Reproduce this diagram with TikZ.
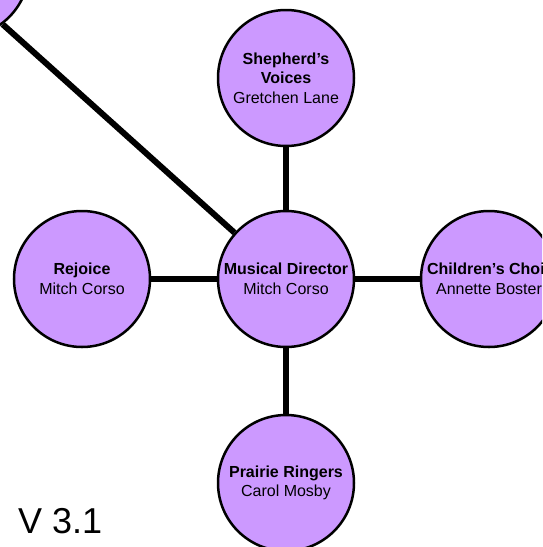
\documentclass[tikz,border=0pt]{standalone}
\usepackage{fontspec}
\setmainfont{Liberation Sans}
\definecolor{bubble}{HTML}{CC99FF}
\begin{document}
\begin{tikzpicture}[x=1pt,y=-1pt,
  bubble/.style={circle,draw=black,line width=2.5pt,fill=bubble,minimum size=136pt,inner sep=0pt,align=center,font=\fontsize{16}{19.5}\selectfont},
  link/.style={line width=6pt,draw=black}]
\useasboundingbox (0,0) rectangle (542,547);
\clip (0,0) rectangle (542,547);
\node[bubble] (tl) at (-39,-31) {};
\node[bubble] (mc) at (286,279) {\textbf{Musical Director}\\Mitch Corso};
\node[bubble] (sv) at (286,78) {\textbf{Shepherd’s}\\\textbf{Voices}\\Gretchen Lane};
\node[bubble] (rj) at (82,279) {\textbf{Rejoice}\\Mitch Corso};
\node[bubble] (cc) at (489,279) {\textbf{Children’s Choir}\\Annette Boster};
\node[bubble] (pr) at (286,483) {\textbf{Prairie Ringers}\\Carol Mosby};
\draw[link] (mc) -- (sv);
\draw[link] (mc) -- (rj);
\draw[link] (mc) -- (cc);
\draw[link] (mc) -- (pr);
\draw[link] (mc) -- (tl.-53);
\node[anchor=base west,inner sep=0pt,font=\fontsize{36}{40}\selectfont] (ver) at (18,533) {V 3.1};
\end{tikzpicture}
\end{document}
